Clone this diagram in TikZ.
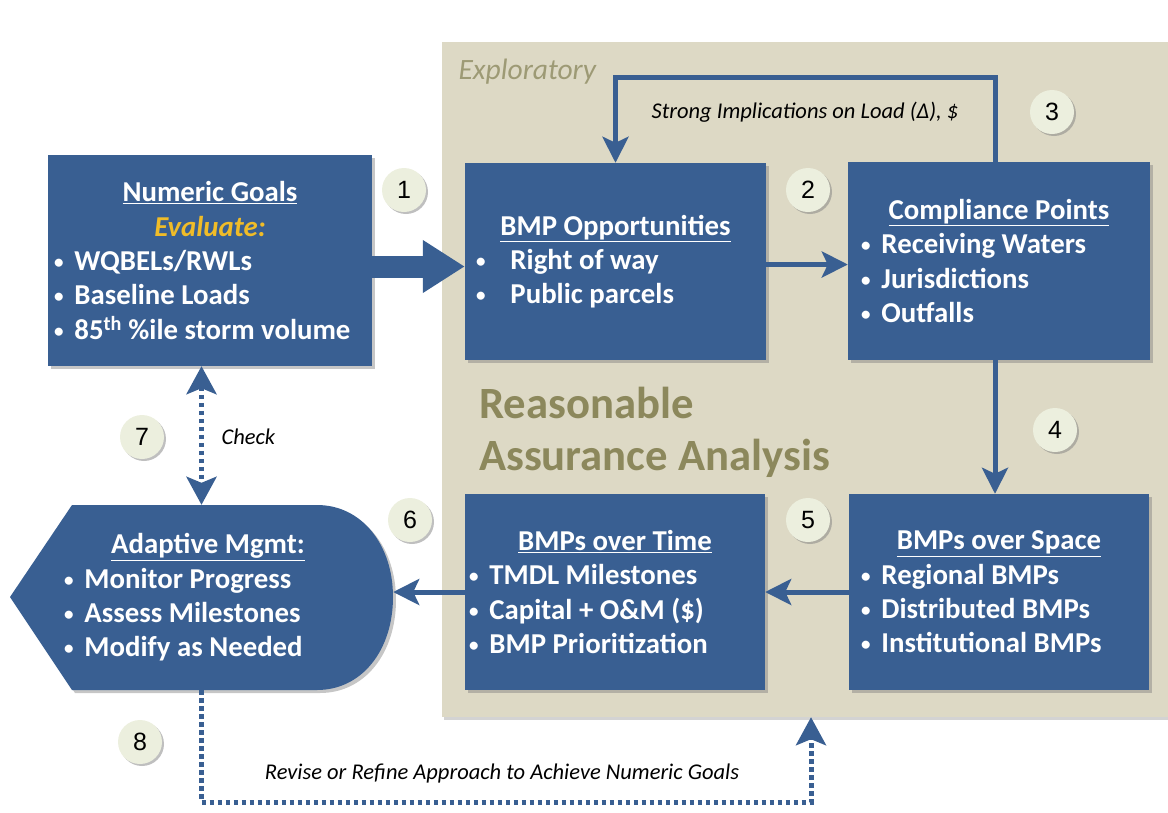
\documentclass[tikz,border=0pt]{standalone}
\usepackage{xcolor}
\usepackage{fontspec}
\setmainfont{Carlito}
\newfontfamily\numfont{Liberation Sans}
\usetikzlibrary{arrows.meta,shadows,positioning}

\definecolor{bmpblue}{RGB}{57,95,146}
\definecolor{raatan}{RGB}{221,217,197}
\definecolor{raaolive}{RGB}{140,136,92}
\definecolor{cream}{RGB}{236,239,222}
\definecolor{evalgold}{RGB}{240,188,40}

\newcommand{\hd}[1]{\underline{#1}}
\newcommand{\bl}{\hspace*{-3pt}\raisebox{2pt}{\fontsize{19}{19}\selectfont •}\hspace{11pt}}

\tikzset{
  bmptext/.style={text=white, inner sep=0pt,
    font=\bfseries\fontsize{28.8}{34.3}\selectfont},
  bmpbox/.style={bmptext, fill=bmpblue,
    drop shadow={shadow xshift=3pt, shadow yshift=-3pt, opacity=.45}},
  numcirc/.style={circle, fill=cream, minimum size=44pt, inner sep=0pt,
    font=\numfont\fontsize{25}{25}\selectfont,
    drop shadow={shadow xshift=2pt, shadow yshift=-2pt, opacity=.5}},
  flow/.style={draw=bmpblue, line width=5pt,
    -{Stealth[length=26pt, width=26pt, inset=6pt]}},
  bigflow/.style={draw=bmpblue, line width=22pt,
    -{Triangle[length=42pt, width=50pt]}},
  dotflow/.style={draw=bmpblue, line width=5pt, dash pattern=on 4.5pt off 3.5pt},
  note/.style={font=\itshape\fontsize{22.5}{26}\selectfont}
}

\begin{document}
\begin{tikzpicture}[x=1pt, y=-1pt]
    \useasboundingbox (0,0) rectangle (1168,812);

    % tan area
    \node[fill=raatan, minimum width=726pt, minimum height=675pt, inner sep=0pt,
      drop shadow={shadow xshift=2pt, shadow yshift=-3pt, opacity=.35}] (raa) at (805,379.5) {};
    \node[anchor=west, text=raaolive!85, font=\itshape\fontsize{29.5}{32}\selectfont] (explo) at (455,72) {Exploratory};
    \node[anchor=north west, inner sep=0pt, align=left, text=raaolive,
      font=\bfseries\fontsize{44.7}{52}\selectfont] (raatxt) at (479,387) {Reasonable\\Assurance Analysis};

    % adaptive mgmt shape
    \fill[bmpblue, drop shadow={shadow xshift=3pt, shadow yshift=-3pt, opacity=.45}]
      (72,505) -- (317,505) .. controls (362,505) and (393,545) .. (393,597)
      .. controls (393,650) and (362,690) .. (317,690) -- (72,690) -- (10,597) -- cycle;

    % boxes
    \node[bmpbox, minimum width=324pt, minimum height=211pt] (goals) at (210,260.5)
      {\parbox{306pt}{\centering\hd{Numeric Goals}\\{\color{evalgold}\itshape Evaluate:}\par
       \raggedright \bl WQBELs/RWLs\\\bl Baseline Loads\\\bl 85\textsuperscript{th} \%ile storm volume}};
    \node[bmpbox, minimum width=301pt, minimum height=197pt] (opps) at (615.5,261.5)
      {\parbox{273pt}{\centering\hd{BMP Opportunities}\par
       \raggedright \bl\hspace{14pt}Right of way\\\bl\hspace{14pt}Public parcels}};
    \node[bmpbox, minimum width=302pt, minimum height=198pt] (comply) at (999,261)
      {\parbox{270pt}{\centering\hd{Compliance Points}\par
       \raggedright \bl Receiving Waters\\\bl Jurisdictions\\\bl Outfalls}};
    \node[bmpbox, minimum width=300pt, minimum height=196pt] (space) at (999,592)
      {\parbox{270pt}{\centering\hd{BMPs over Space}\par
       \raggedright \bl Regional BMPs\\\bl Distributed BMPs\\\bl Institutional BMPs}};
    \node[bmpbox, minimum width=300pt, minimum height=196pt] (time) at (615,592)
      {\parbox{286pt}{\centering\hd{BMPs over Time}\par
       \raggedright \bl TMDL Milestones\\\bl Capital + O\&M (\$)\\\bl BMP Prioritization}};
    \node[bmptext, minimum width=383pt, minimum height=185pt] (adapt) at (201.5,597.5)
      {\hspace*{13pt}\parbox{282pt}{\centering\hd{Adaptive Mgmt:}\par
       \raggedright \bl Monitor Progress\\\bl Assess Milestones\\\bl Modify as Needed}};

    % arrows
    \draw[bigflow] ([yshift=-6pt]goals.east) -- ([yshift=-6pt]goals.east -| opps.west);
    \draw[flow] ([yshift=-3pt]opps.east) -- ([yshift=-3pt]opps.east -| comply.west);
    \draw[flow] ([xshift=-4pt]comply.north) -- ++(0,-84) -| (opps.north);
    \draw[flow] ([xshift=-4pt]comply.south) -- ([xshift=-4pt]space.north);
    \draw[flow] (space.west) -- (time.east);
    \draw[flow] (time.west) -- (time.west -| adapt.east);
    \draw[dotflow, {Stealth[length=28pt, width=30pt, inset=6pt]}-{Stealth[length=28pt, width=30pt, inset=6pt]}]
      (goals.south -| adapt.north) -- (adapt.north);
    \draw[dotflow, -{Stealth[length=28pt, width=30pt, inset=6pt]}]
      (adapt.south) -- ++(0,112) -| ([xshift=6pt]raa.south);

    % labels
    \node[note] (implic) at (805,112) {Strong Implications on Load (Δ), \$};
    \node[note, anchor=west] (check) at (218,437) {Check};
    \node[note] (revise) at (502,773) {Revise or Refine Approach to Achieve Numeric Goals};

    % step numbers
    \node[numcirc] (c1) at (404,190) {1};
    \node[numcirc] (c2) at (808,190) {2};
    \node[numcirc] (c3) at (1052,112) {3};
    \node[numcirc] (c4) at (1055,430) {4};
    \node[numcirc] (c5) at (808,520) {5};
    \node[numcirc] (c6) at (410,520) {6};
    \node[numcirc] (c7) at (142,437) {7};
    \node[numcirc] (c8) at (140,742) {8};
\end{tikzpicture}
\end{document}
